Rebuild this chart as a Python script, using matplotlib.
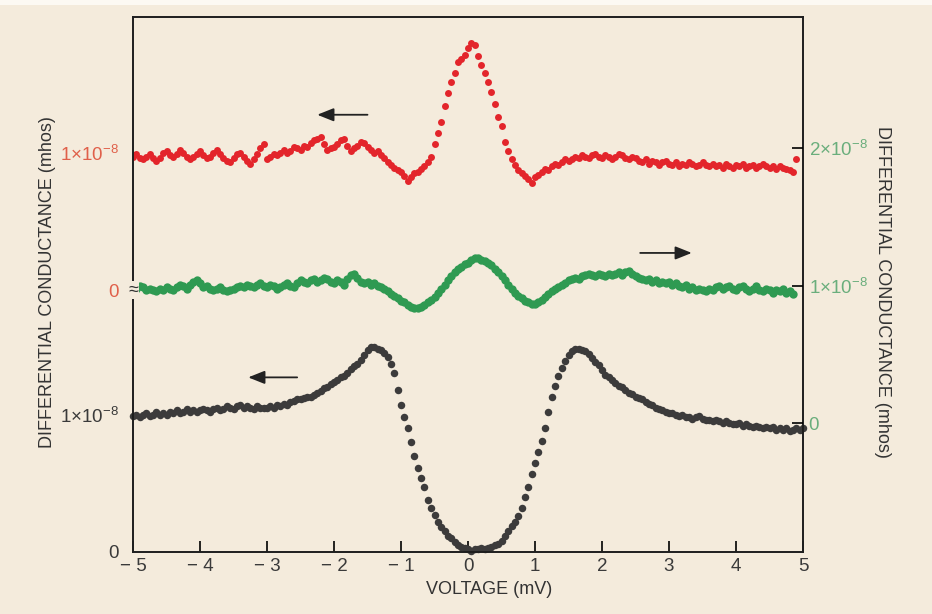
import numpy as np
import matplotlib.pyplot as plt
from matplotlib import transforms

plt.rcParams['font.family'] = ['Liberation Sans', 'DejaVu Sans']
plt.rcParams['mathtext.fontset'] = 'custom'
plt.rcParams['mathtext.rm'] = 'Liberation Sans'
plt.rcParams['mathtext.it'] = 'Liberation Sans'

# bias voltage grid (mV), one sample every 0.05 mV
voltage = np.round(np.arange(-5, 5.0001, 0.05), 2)

# differential conductance, units of 1e-8 mhos
red = [0.97, 0.99, 0.96, 0.95, 0.97, 0.99, 0.96, 0.94, 0.96, 1.00, 1.01, 0.98, 0.97, 0.99, 1.02, 1.00, 0.97, 0.95, 0.97, 0.99,
       1.01, 0.98, 0.96, 0.97, 1.00, 1.02, 0.99, 0.96, 0.94, 0.93, 0.96, 0.99, 1.00, 0.97, 0.94, 0.92, 0.95, 0.99, 1.03, 1.06,
       0.95, 0.97, 0.99, 0.98, 1.00, 1.02, 1.00, 1.01, 1.04, 1.03, 1.02, 1.05, 1.04, 1.07, 1.09, 1.10, 1.11, 1.06, 1.02, 1.03,
       1.04, 1.06, 1.09, 1.10, 1.05, 1.01, 1.03, 1.05, 1.08, 1.07, 1.04, 1.02, 1.00, 1.01, 0.98, 0.96, 0.93, 0.91, 0.89, 0.87,
       0.86, 0.83, 0.79, 0.82, 0.85, 0.86, 0.88, 0.90, 0.93, 0.97, 1.06, 1.14, 1.22, 1.34, 1.43, 1.51, 1.58, 1.66, 1.68, 1.71,
       1.76, 1.80, 1.78, 1.70, 1.64, 1.58, 1.51, 1.44, 1.35, 1.26, 1.19, 1.08, 1.01, 0.95, 0.91, 0.87, 0.85, 0.83, 0.81, 0.78,
       0.82, 0.84, 0.86, 0.88, 0.87, 0.90, 0.92, 0.91, 0.93, 0.95, 0.94, 0.95, 0.97, 0.96, 0.98, 0.97, 0.96, 0.98, 0.99, 0.97,
       0.96, 0.98, 0.97, 0.95, 0.97, 0.99, 0.98, 0.96, 0.95, 0.97, 0.96, 0.94, 0.93, 0.95, 0.92, 0.94, 0.93, 0.91, 0.93, 0.94,
       0.92, 0.91, 0.93, 0.90, 0.92, 0.91, 0.93, 0.92, 0.90, 0.91, 0.93, 0.91, 0.90, 0.92, 0.90, 0.91, 0.89, 0.92, 0.90, 0.89,
       0.91, 0.90, 0.92, 0.89, 0.90, 0.91, 0.89, 0.90, 0.92, 0.90, 0.89, 0.90, 0.88, 0.90, 0.89, 0.88, 0.87, 0.86, 0.95]

green = [0.99, 0.98, 1.00, 0.99, 0.97, 0.98, 0.97, 0.96, 0.98, 0.97, 0.99, 0.98, 0.97, 0.99, 1.01, 1.00, 0.98, 1.01, 1.03, 1.04,
         1.02, 0.99, 1.00, 0.98, 0.97, 0.98, 0.99, 0.97, 0.96, 0.97, 0.98, 0.99, 1.00, 0.99, 1.01, 1.00, 0.99, 1.01, 1.02, 1.00,
         0.99, 1.01, 1.00, 0.98, 0.99, 1.01, 1.02, 1.00, 0.99, 1.02, 1.04, 1.03, 1.02, 1.04, 1.05, 1.03, 1.04, 1.06, 1.05, 1.03,
         1.02, 1.04, 1.03, 1.01, 1.05, 1.08, 1.09, 1.06, 1.03, 1.02, 1.03, 1.01, 1.02, 1.00, 0.99, 0.98, 0.96, 0.94, 0.93, 0.91,
         0.89, 0.88, 0.86, 0.85, 0.84, 0.84, 0.85, 0.86, 0.88, 0.90, 0.92, 0.95, 0.98, 1.01, 1.04, 1.07, 1.10, 1.12, 1.14, 1.16,
         1.17, 1.19, 1.20, 1.20, 1.19, 1.18, 1.17, 1.15, 1.12, 1.10, 1.07, 1.04, 1.01, 0.98, 0.95, 0.93, 0.91, 0.89, 0.88, 0.87,
         0.87, 0.88, 0.90, 0.92, 0.94, 0.96, 0.98, 0.99, 1.01, 1.02, 1.04, 1.05, 1.06, 1.05, 1.07, 1.08, 1.09, 1.08, 1.07, 1.09,
         1.08, 1.07, 1.09, 1.08, 1.09, 1.10, 1.08, 1.10, 1.11, 1.09, 1.07, 1.06, 1.05, 1.04, 1.05, 1.03, 1.04, 1.02, 1.03, 1.02,
         1.03, 1.01, 1.02, 1.00, 0.99, 1.01, 0.98, 0.99, 0.97, 0.98, 0.97, 0.96, 0.98, 0.97, 0.99, 1.00, 0.98, 0.99, 1.00, 0.98,
         0.97, 0.99, 1.00, 0.98, 0.96, 0.98, 1.00, 0.97, 0.96, 0.98, 0.97, 0.95, 0.97, 0.96, 0.98, 0.95, 0.96, 0.94]

black = [0.99, 1.00, 0.98, 1.00, 1.01, 0.99, 1.00, 1.02, 1.00, 1.01, 1.00, 1.02, 1.01, 1.03, 1.01, 1.02, 1.04, 1.02, 1.03, 1.02,
         1.03, 1.04, 1.03, 1.02, 1.04, 1.05, 1.03, 1.04, 1.06, 1.05, 1.04, 1.06, 1.07, 1.05, 1.06, 1.05, 1.04, 1.06, 1.05, 1.05,
         1.05, 1.06, 1.05, 1.07, 1.06, 1.08, 1.07, 1.09, 1.10, 1.11, 1.11, 1.12, 1.13, 1.13, 1.14, 1.16, 1.17, 1.19, 1.20, 1.22,
         1.24, 1.25, 1.27, 1.28, 1.30, 1.33, 1.35, 1.37, 1.40, 1.43, 1.47, 1.49, 1.49, 1.48, 1.47, 1.45, 1.42, 1.37, 1.30, 1.18,
         1.07, 0.98, 0.90, 0.80, 0.70, 0.61, 0.54, 0.47, 0.38, 0.32, 0.27, 0.22, 0.18, 0.15, 0.12, 0.10, 0.07, 0.05, 0.04, 0.03,
         0.02, 0.01, 0.02, 0.02, 0.03, 0.02, 0.03, 0.04, 0.05, 0.06, 0.08, 0.12, 0.15, 0.19, 0.22, 0.26, 0.32, 0.40, 0.47, 0.57,
         0.65, 0.73, 0.81, 0.90, 1.02, 1.13, 1.21, 1.28, 1.34, 1.39, 1.43, 1.46, 1.48, 1.48, 1.47, 1.46, 1.44, 1.41, 1.38, 1.36,
         1.32, 1.29, 1.27, 1.25, 1.23, 1.21, 1.20, 1.18, 1.16, 1.15, 1.13, 1.12, 1.11, 1.09, 1.08, 1.07, 1.05, 1.04, 1.03, 1.02,
         1.01, 1.01, 1.00, 0.99, 1.00, 0.98, 0.98, 0.97, 0.98, 0.99, 0.97, 0.96, 0.96, 0.95, 0.96, 0.95, 0.94, 0.95, 0.94, 0.93,
         0.93, 0.94, 0.92, 0.93, 0.92, 0.91, 0.92, 0.91, 0.90, 0.91, 0.90, 0.91, 0.89, 0.90, 0.89, 0.90, 0.88, 0.89, 0.90, 0.89, 0.90]

assert len(black) == len(voltage)

# vertical offsets of each trace's zero (same units)
off_black = 0.0
off_green = 0.935
off_red = 1.905

bg = '#f4ebdc'
c_red = '#e3252b'
c_green = '#2f9a52'
c_black = '#3c3b3b'

fig = plt.figure(figsize=(9.32, 6.14), dpi=100)
fig.patch.set_facecolor(bg)
fig.add_artist(plt.Rectangle((0, 1 - 5 / 614), 1, 5 / 614, transform=fig.transFigure,
                             facecolor='#fcf9f3', edgecolor='none'))

ax = fig.add_axes([133 / 932, 62 / 614, 670 / 932, 535 / 614])
ax.set_facecolor('none')
ax.set_xlim(-5, 5)
ax.set_ylim(0, 535 / 137.5)

ax.plot(voltage[:len(black)], off_black + np.array(black), 'o', ms=5.4, mew=0, color=c_black, clip_on=False)
ax.plot(voltage[:len(green)], off_green + np.array(green), 'o', ms=6.0, mew=0, color=c_green)
ax.plot(voltage[:len(red)], off_red + np.array(red), 'o', ms=5.0, mew=0, color=c_red)

for s in ax.spines.values():
    s.set_linewidth(1.4)
    s.set_color('#1e1e1e')

# x axis
ax.set_xticks(range(-5, 6))
ax.set_xticklabels(['\u2212 5', '\u2212 4', '\u2212 3', '\u2212 2', '\u2212 1', '0', '1', '2', '3', '4', '5'])
ax.tick_params(axis='x', direction='in', length=8, width=1.2, pad=4, labelsize=13.5, labelcolor='#3a3a3a')

# left axis: black and red scales
sci = '1$\\times$10$^{-8}$'
ax.set_yticks([off_black, off_black + 1, off_red, off_red + 1])
ax.set_yticklabels(['0', sci, '0', sci])
ax.tick_params(axis='y', length=0, pad=10, labelsize=13.5)
for lab, col in zip(ax.get_yticklabels(), ['#3a3a3a', '#3a3a3a', '#e0604a', '#e0604a']):
    lab.set_color(col)

# axis break mark at the red zero
trans = transforms.blended_transform_factory(ax.transAxes, ax.transData)
ax.text(0, off_red, '\u2248', transform=trans, ha='center', va='center', fontsize=13,
        color='#333333', bbox=dict(facecolor=bg, edgecolor='none', pad=0.5))

# right axis: green scale
ax2 = ax.twinx()
ax2.set_ylim(ax.get_ylim())
ax2.set_yticks([off_green, off_green + 1, off_green + 2])
ax2.set_yticklabels(['0', sci, '2$\\times$10$^{-8}$'])
ax2.tick_params(axis='y', direction='in', length=8, width=1.2, pad=4, labelsize=13.5, labelcolor='#6aae7c')
for s in ax2.spines.values():
    s.set_visible(False)

# sweep direction arrows
arrow = dict(arrowstyle='-|>,head_length=0.5,head_width=0.2', color='#222222', lw=1.3,
             mutation_scale=20, shrinkA=0, shrinkB=0)
ax.annotate('', xy=(-2.25, 3.18), xytext=(-1.5, 3.18), arrowprops=arrow)
ax.annotate('', xy=(3.34, 2.175), xytext=(2.57, 2.175), arrowprops=arrow)
ax.annotate('', xy=(-3.28, 1.27), xytext=(-2.55, 1.27), arrowprops=arrow)

fig.text(489 / 932, 1 - 590 / 614, 'VOLTAGE (mV)', ha='center', va='center', fontsize=13, color='#333333')
fig.text(48 / 932, 1 - 282 / 614, 'DIFFERENTIAL CONDUCTANCE (mhos)', rotation=90,
         ha='center', va='center', fontsize=13, color='#333333')
fig.text(883 / 932, 1 - 292 / 614, 'DIFFERENTIAL CONDUCTANCE (mhos)', rotation=270,
         ha='center', va='center', fontsize=13, color='#333333')

fig.savefig('out.png', dpi=100, facecolor=fig.get_facecolor())
